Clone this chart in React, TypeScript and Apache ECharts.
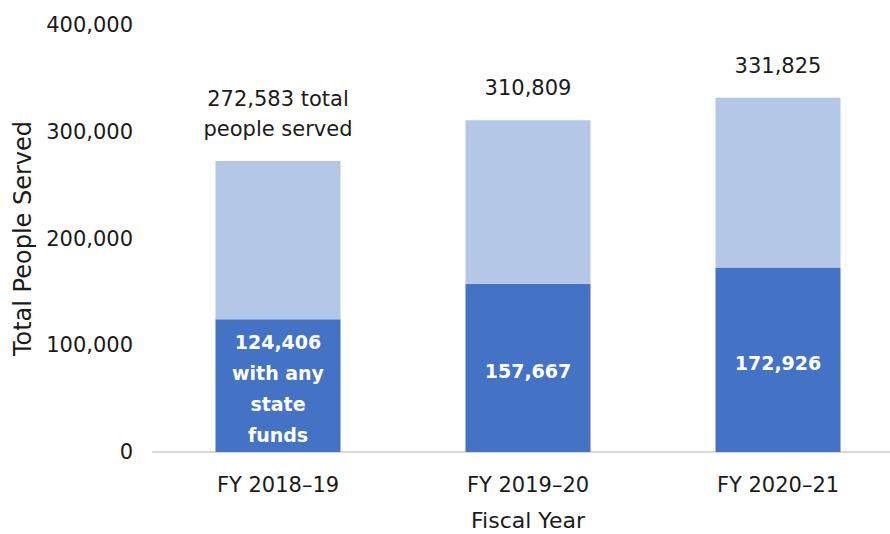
import React, { useEffect, useRef } from "react";
import * as echarts from "echarts";

const categories = ["FY 2018–19", "FY 2019–20", "FY 2020–21"];
const stateFunded = [124406, 157667, 172926];
const totals = [272583, 310809, 331825];
const stateLabels = ["124,406\nwith any\nstate\nfunds", "157,667", "172,926"];
const totalLabels = ["272,583 total\npeople served", "310,809", "331,825"];
const yTicks = [0, 100000, 200000, 300000, 400000];

const FONT = "'DejaVu Sans', sans-serif";
const TEXT = "#1a1a1a";

export default function App() {
  const ref = useRef<HTMLDivElement>(null);
  useEffect(() => {
    if (!ref.current) return;
    const chart = echarts.init(ref.current, undefined, { renderer: "svg" });
    const remainder = totals.map((t, i) => t - stateFunded[i]);
    chart.setOption({
      animation: false,
      textStyle: { fontFamily: FONT },
      grid: {
        left: 153,
        right: -13,
        top: 25,
        bottom: 82,
        containLabel: false,
        outerBoundsMode: "none",
      },
      xAxis: {
        type: "category",
        data: categories,
        axisLine: { lineStyle: { color: "#D9D9D9", width: 2 } },
        axisTick: { show: false },
        axisLabel: { color: TEXT, fontSize: 21, margin: 22, fontFamily: FONT },
        name: "Fiscal Year",
        nameLocation: "middle",
        nameGap: 57,
        nameTextStyle: { color: TEXT, fontSize: 22, fontFamily: FONT },
      },
      yAxis: {
        type: "value",
        min: yTicks[0],
        max: yTicks[yTicks.length - 1],
        interval: 100000,
        axisLine: { show: false },
        axisTick: { show: false },
        splitLine: { show: false },
        axisLabel: {
          color: TEXT,
          fontSize: 21,
          margin: 20,
          fontFamily: FONT,
          formatter: (v: number) => v.toLocaleString("en-US"),
        },
        name: "Total People Served",
        nameLocation: "middle",
        nameGap: 118,
        nameTextStyle: { color: TEXT, fontSize: 24, fontFamily: FONT },
      },
      series: [
        {
          type: "bar",
          stack: "total",
          data: stateFunded,
          barWidth: "50%",
          itemStyle: { color: "#4472C4" },
          label: {
            show: true,
            position: "inside",
            offset: [0, 3],
            color: "#ffffff",
            fontWeight: "bold",
            fontSize: 19,
            lineHeight: 31,
            fontFamily: FONT,
            formatter: (p: any) => stateLabels[p.dataIndex],
          },
        },
        {
          type: "bar",
          stack: "total",
          data: remainder,
          barWidth: "50%",
          itemStyle: { color: "#B4C7E7" },
          label: {
            show: true,
            position: "top",
            distance: 17,
            color: TEXT,
            fontSize: 21,
            lineHeight: 30,
            fontFamily: FONT,
            formatter: (p: any) => totalLabels[p.dataIndex],
          },
        },
      ],
    });
    return () => chart.dispose();
  }, []);
  return (
    <div
      ref={ref}
      style={{ position: "absolute", left: 0, top: 0, width: 890, height: 534, background: "#fff" }}
    />
  );
}
